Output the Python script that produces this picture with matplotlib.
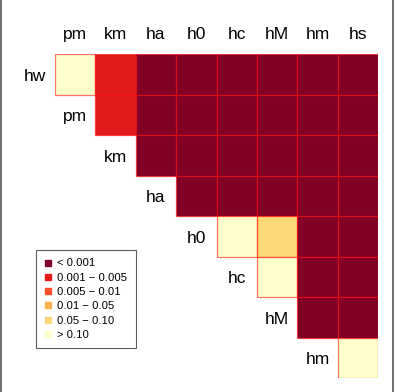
import matplotlib
matplotlib.use("Agg")
import matplotlib.pyplot as plt
from matplotlib.patches import Rectangle
from matplotlib.lines import Line2D
import numpy as np

row_labels = ["hw", "pm", "km", "ha", "h0", "hc", "hM", "hm"]
col_labels = ["pm", "km", "ha", "h0", "hc", "hM", "hm", "hs"]

legend_labels = ["< 0.001", "0.001 \u2212 0.005", "0.005 \u2212 0.01",
                 "0.01 \u2212 0.05", "0.05 \u2212 0.10", "> 0.10"]
legend_colors = ["#800026", "#E31A1C", "#FC4E2A", "#FEB24C", "#FED976", "#FFFFCC"]

# p-value class index (0..5, per legend) for upper-triangle cells; None = empty
classes = [
    [5, 1, 0, 0, 0, 0, 0, 0],           # hw
    [None, 1, 0, 0, 0, 0, 0, 0],        # pm
    [None, None, 0, 0, 0, 0, 0, 0],     # km
    [None, None, None, 0, 0, 0, 0, 0],  # ha
    [None, None, None, None, 5, 4, 0, 0],  # h0
    [None, None, None, None, None, 5, 0, 0],  # hc
    [None, None, None, None, None, None, 0, 0],  # hM
    [None, None, None, None, None, None, None, 5],  # hm
]

W, H = 398, 392
fig = plt.figure(figsize=(W / 100, H / 100), dpi=100)
ax = fig.add_axes([55 / W, 1 - 378 / H, 323 / W, 324 / H])
n = len(col_labels)
ax.set_xlim(0, n)
ax.set_ylim(n, 0)
ax.axis("off")

edge = (1.0, 0.0, 0.0, 0.55)
for i, row in enumerate(classes):
    for j, c in enumerate(row):
        if c is None:
            continue
        ax.add_patch(Rectangle((j, i), 1, 1, facecolor=legend_colors[c],
                               edgecolor=edge, linewidth=0.9))

for j, lab in enumerate(col_labels):
    ax.text(j + 0.5, -0.47, lab, ha="center", va="center", fontsize=12.5,
            family="Liberation Sans", clip_on=False)
for i, lab in enumerate(row_labels):
    ax.text(i - 0.5, i + 0.55, lab, ha="center", va="center", fontsize=12.5,
            family="Liberation Sans", clip_on=False)

handles = [Line2D([], [], marker="s", linestyle="none", markersize=4.5,
                  markerfacecolor=c, markeredgecolor=c) for c in legend_colors]
leg = fig.legend(handles, legend_labels, loc="upper left",
                 bbox_to_anchor=(36 / W, 1 - 250 / H),
                 prop={"family": "Liberation Sans", "size": 8.1},
                 frameon=True, fancybox=False, handlelength=0.7,
                 handletextpad=0.45, labelspacing=0.38, borderpad=0.75,
                 borderaxespad=0)
leg.get_frame().set_edgecolor("#333333")
leg.get_frame().set_linewidth(0.8)

fig.add_artist(Line2D([1.0 / W, 1.0 / W], [0, 1], color="#555555", lw=1.2))
fig.add_artist(Line2D([392.5 / W, 392.5 / W], [0, 1], color="#555555", lw=1.2))

fig.savefig("out.png", dpi=100)
